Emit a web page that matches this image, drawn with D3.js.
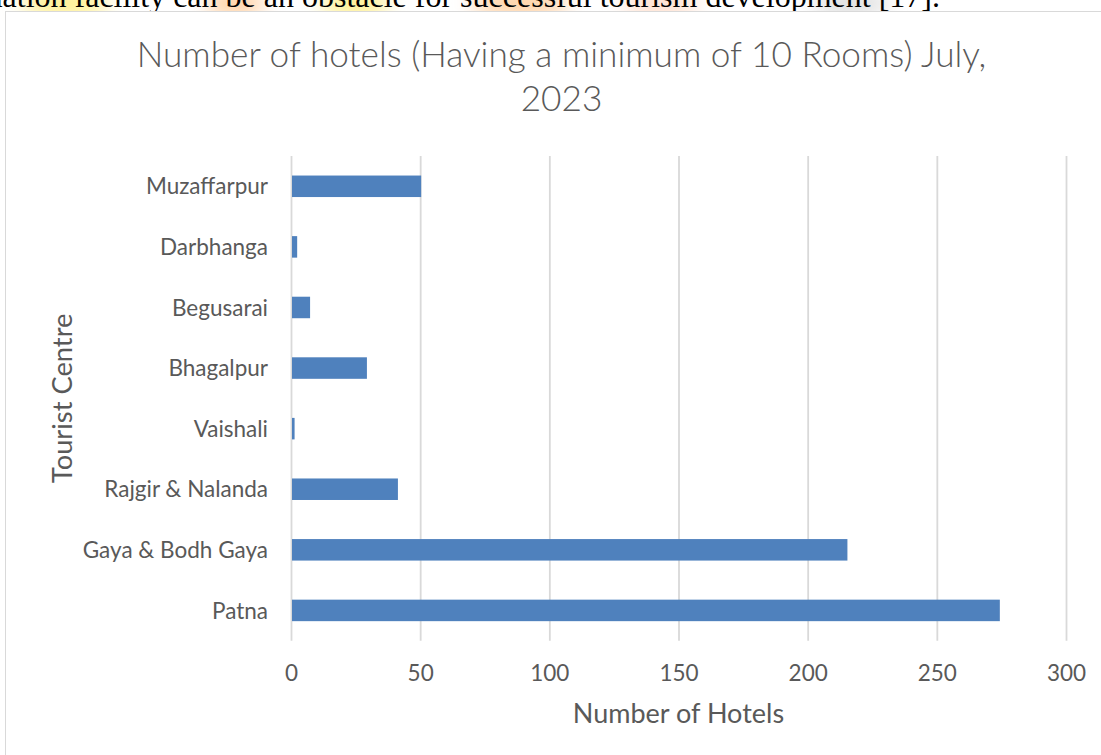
<!DOCTYPE html>
<html>
<head>
<meta charset="utf-8">
<script src="https://cdn.jsdelivr.net/npm/d3@7"></script>
<style>
  body { margin: 0; background: white; overflow: hidden; }
  text { fill: #595959; font-family: Lato, "Open Sans", sans-serif; }
</style>
</head>
<body>
<div id="chart"></div>
<script>
// Data
var categories = ["Patna", "Gaya & Bodh Gaya", "Rajgir & Nalanda", "Vaishali",
                  "Bhagalpur", "Begusarai", "Darbhanga", "Muzaffarpur"];
var hotels = [274, 215, 41, 1, 29, 7, 2, 50];
var xTicks = [0, 50, 100, 150, 200, 250, 300];
var titleLines = ["Number of hotels (Having a minimum of 10 Rooms) July,", "2023"];
var xLabel = "Number of Hotels";
var yLabel = "Tourist Centre";
var pageText = "accommodation facility can be an obstacle for successful tourism development [17].";

// Variables for chart creation
var W = 1101, H = 755;
var margin = {top: 156, left: 291};
var width = 775;
var height = 484.7;

var x_scale = d3.scaleLinear()
    .domain([0, 300])
    .range([0, width]);
var y_scale = d3.scaleBand()
    .domain(categories)
    .range([height, 0])
    .paddingInner(0.645)
    .paddingOuter(0.3225);

var svg = d3.select('#chart')
  .append('svg')
  .attr('width', W)
  .attr('height', H)
  .style("background-color", "white");

// Bit of the page above the chart (highlighted text, cut off at the top)
var defs = svg.append("defs");
defs.append("filter")
    .attr("id", "soft")
    .attr("x", "-50%").attr("y", "-200%")
    .attr("width", "200%").attr("height", "500%")
  .append("feGaussianBlur")
    .attr("stdDeviation", 10);

var glow = svg.append("g").attr("filter", "url(#soft)");
glow.append("ellipse").attr("cx", 65).attr("cy", 3).attr("rx", 45).attr("ry", 12).style("fill", "#ffee80");
glow.append("ellipse").attr("cx", 235).attr("cy", 3).attr("rx", 30).attr("ry", 12).style("fill", "#ffcc99");
glow.append("ellipse").attr("cx", 355).attr("cy", 3).attr("rx", 35).attr("ry", 12).style("fill", "#ffee80");
glow.append("ellipse").attr("cx", 520).attr("cy", 3).attr("rx", 50).attr("ry", 12).style("fill", "#ffcc99");
glow.append("ellipse").attr("cx", 660).attr("cy", 3).attr("rx", 40).attr("ry", 12).style("fill", "#ffdcc8");
glow.append("ellipse").attr("cx", 850).attr("cy", 3).attr("rx", 40).attr("ry", 12).style("fill", "#dddddd");

svg.append("text")
    .attr("x", 940)
    .attr("y", 6.5)
    .style("text-anchor", "end")
    .style("font-family", "'Liberation Serif', 'Times New Roman', serif")
    .style("font-size", "32px")
    .style("fill", "#000")
    .text(pageText);

// Chart frame
svg.append("rect")
    .attr("x", 5.5)
    .attr("y", 11.5)
    .attr("width", 1200)
    .attr("height", 800)
    .style("fill", "white")
    .style("stroke", "#d9d9d9")
    .style("stroke-width", 1);

var chart = svg.append('g')
    .attr("transform", 'translate(' + margin.left + "," + margin.top + ")");

// Gridlines
chart.append("g")
    .attr("class", "grid")
    .attr("transform", 'translate(0,' + height + ')')
    .call(d3.axisBottom(x_scale)
        .tickValues(xTicks)
        .tickSize(-height)
        .tickFormat("")
    )
    .call(function (g) { g.select(".domain").remove(); })
    .selectAll("line")
    .style("stroke", "#d9d9d9")
    .style("stroke-width", 1.8);

// Bars
chart.selectAll(".bar")
    .data(hotels)
    .enter()
    .append("rect")
    .attr("class", "bar")
    .attr("x", x_scale(0) + 1)
    .attr("y", function (d, i) { return y_scale(categories[i]); })
    .attr("width", function (d) { return x_scale(d) - x_scale(0); })
    .attr("height", y_scale.bandwidth())
    .style("fill", "#4f81bd");

// X tick labels
var xAxis = chart.append("g")
    .attr("transform", 'translate(0,' + height + ')')
    .call(d3.axisBottom(x_scale)
        .tickValues(xTicks)
        .tickSize(0)
        .tickPadding(0)
    );
xAxis.select(".domain").remove();
xAxis.selectAll("text")
    .attr("y", 40)
    .attr("dy", 0)
    .style("font-family", "Lato, 'Open Sans', sans-serif")
    .style("font-size", "22.5px")
    .style("fill", "#595959");

// Y category labels
var yAxis = chart.append("g")
    .call(d3.axisLeft(y_scale)
        .tickSize(0)
        .tickPadding(23)
    );
yAxis.select(".domain").remove();
yAxis.selectAll("text")
    .attr("dy", "0.36em")
    .style("font-family", "Lato, 'Open Sans', sans-serif")
    .style("font-size", "22.5px")
    .style("fill", "#595959");

// Axis titles
svg.append("text")
    .attr("x", margin.left + width / 2)
    .attr("y", 722.5)
    .style("text-anchor", "middle")
    .style("font-size", "27px")
    .text(xLabel);

svg.append("text")
    .attr("transform", "translate(72," + (margin.top + height / 2) + ") rotate(-90)")
    .style("text-anchor", "middle")
    .style("font-size", "27.3px")
    .text(yLabel);

// Chart title
svg.selectAll(".title")
    .data(titleLines)
    .enter()
    .append("text")
    .attr("class", "title")
    .attr("x", 561.5)
    .attr("y", function (d, i) { return 66.5 + i * 44; })
    .style("text-anchor", "middle")
    .style("font-size", "35.2px")
    .style("font-weight", 300)
    .text(function (d) { return d; });
</script>
</body>
</html>
